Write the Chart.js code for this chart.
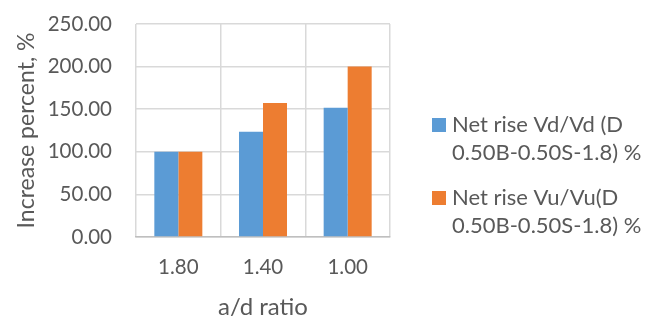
<!DOCTYPE html>
<html>
<head>
<meta charset="utf-8">
<script src="https://cdn.jsdelivr.net/npm/chart.js@4/dist/chart.umd.min.js"></script>
<style>
  html, body { margin: 0; padding: 0; background: #ffffff; }
  #wrap { width: 646px; height: 322px; }
</style>
</head>
<body>
<div id="wrap"><canvas id="c" width="646" height="322"></canvas></div>
<script>
// a/d ratio categories
const categories = ['1.80', '1.40', '1.00'];
// Net rise in shear capacity, percent
const vdRise = [100, 123.6, 151.8];
const vuRise = [100, 157.3, 200];
// legend text, wrapped over two lines each
const vdLabelLines = ['Net rise Vd/Vd (D', '0.50B-0.50S-1.8) %'];
const vuLabelLines = ['Net rise Vu/Vu(D', '0.50B-0.50S-1.8) %'];
// y-axis tick values
const yTicks = [0, 50, 100, 150, 200, 250];

const FONT = 'Lato, "Open Sans", sans-serif';
const TEXT = '#595959';

// Two-line legend drawn to the right of the plot
const sideLegend = {
  id: 'sideLegend',
  afterDraw(chart) {
    const ctx = chart.ctx;
    const x0 = 432, box = 14, textX = 452, lineH = 28;
    const starts = [125, 198];
    ctx.save();
    ctx.font = '22px ' + FONT;
    ctx.textBaseline = 'middle';
    ctx.textAlign = 'left';
    chart.data.datasets.forEach((ds, i) => {
      const y = starts[i];
      ctx.fillStyle = ds.backgroundColor;
      ctx.fillRect(x0, y - box / 2, box, box);
      ctx.fillStyle = TEXT;
      ds.legendLines.forEach((t, k) => ctx.fillText(t, textX, y + k * lineH));
    });
    ctx.restore();
  }
};

new Chart(document.getElementById('c'), {
  type: 'bar',
  data: {
    labels: categories,
    datasets: [
      { label: vdLabelLines.join(' '), legendLines: vdLabelLines, data: vdRise,
        backgroundColor: '#5B9BD5', barPercentage: 1, categoryPercentage: 0.567 },
      { label: vuLabelLines.join(' '), legendLines: vuLabelLines, data: vuRise,
        backgroundColor: '#ED7D31', barPercentage: 1, categoryPercentage: 0.567 }
    ]
  },
  options: {
    responsive: false,
    animation: false,
    devicePixelRatio: 1,
    layout: { padding: { top: 24, right: 256, bottom: 0, left: 0 } },
    plugins: { legend: { display: false }, tooltip: { enabled: false } },
    scales: {
      x: {
        grid: { color: '#d9d9d9', lineWidth: 1.5, drawTicks: false, offset: true },
        border: { color: '#bfbfbf', width: 1.5 },
        ticks: { color: TEXT, font: { family: FONT, size: 20.5 }, padding: 18 },
        title: { display: true, text: 'a/d ratio', color: TEXT,
                 font: { family: FONT, size: 24 }, padding: { top: 8, bottom: 0 } },
        afterFit(scale) { scale.height = 85; scale.paddingLeft = 0; scale.paddingRight = 0; }
      },
      y: {
        min: 0, max: 250,
        afterBuildTicks(scale) { scale.ticks = yTicks.map(v => ({ value: v })); },
        grid: { color: '#d9d9d9', lineWidth: 1.5, drawTicks: false },
        border: { display: false },
        ticks: { color: TEXT, font: { family: FONT, size: 20.5 }, padding: 24,
                 callback: v => Number(v).toFixed(2) },
        title: { display: true, text: 'Increase percent, %', color: TEXT,
                 font: { family: FONT, size: 23 }, padding: { top: 13, bottom: 0 } },
        afterFit(scale) { scale.width = 136; scale.paddingTop = 0; scale.paddingBottom = 0; }
      }
    }
  },
  plugins: [sideLegend]
});
</script>
</body>
</html>
